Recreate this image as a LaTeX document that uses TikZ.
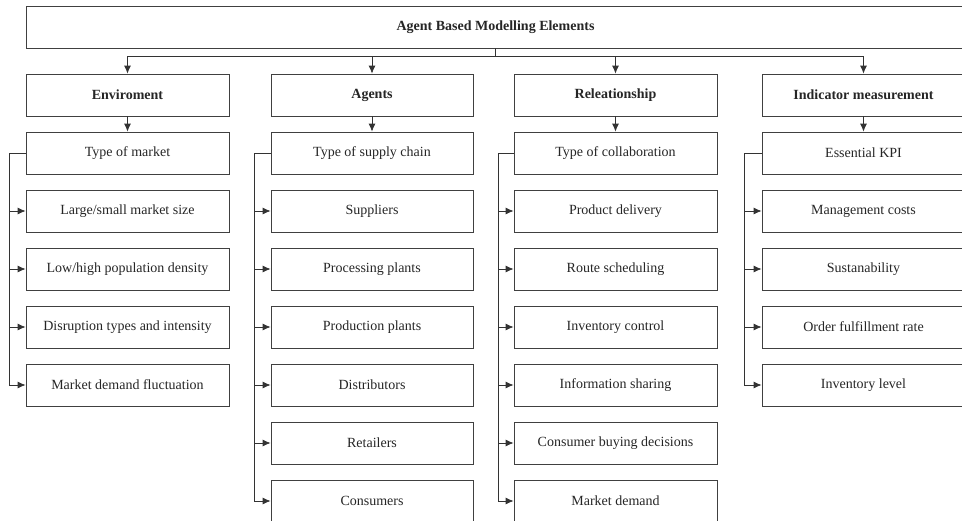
\documentclass[tikz,border=0pt]{standalone}
\usepackage{fontspec}
\setmainfont{Liberation Serif}
\usetikzlibrary{arrows.meta}
\begin{document}
\begin{tikzpicture}[x=1pt,y=-1pt,
  box/.style={draw=black!75, line width=0.8pt, fill=white, inner sep=0pt,
    minimum height=42pt, text=black!85, font=\fontsize{14}{16}\selectfont},
  head/.style={box, font=\fontsize{14}{16}\selectfont\bfseries},
  conn/.style={draw=black!80, line width=0.8pt},
  arr/.style={conn, -{Latex[length=8pt,width=7pt]}}]
\useasboundingbox (0,0) rectangle (962,520);
\clip (0,0) rectangle (962,520);

% root box, running past the right edge
\node[head, minimum width=947pt] (root) at (499.5,27) {Agent Based Modelling Elements\hspace*{8pt}};

% category boxes
\node[head, minimum width=203pt] (env) at (127.5,95) {Enviroment};
\node[head, minimum width=202pt] (agt) at (372,95) {Agents};
\node[head, minimum width=203pt] (rel) at (615.5,95) {Releationship};
\node[head, minimum width=211pt] (ind) at (867.5,95) {Indicator measurement\hspace*{8pt}};

% root to categories
\coordinate (bus) at (495,56);
\draw[conn] (bus |- root.south) -- (bus);
\draw[arr] (bus) -| (env.north);
\draw[arr] (bus) -| (agt.north);
\draw[arr] (bus) -| (rel.north);
\draw[arr] ([xshift=-4pt]bus) -| ([xshift=-4pt]ind.north);

% Enviroment column
\foreach \t [count=\i from 0] in {Type of market, Large/small market size,
    Low/high population density, Disruption types and intensity,
    Market demand fluctuation}
  \node[box, minimum width=203pt] (e\i) at (127.5,153+58*\i) {\t};
\draw[arr] (env.south) -- (e0.north);
\draw[conn] (e0.west) -- ++(-16,0) coordinate (eb);
\foreach \i in {1,...,4} \draw[arr] (eb) |- (e\i.west);

% Agents column
\foreach \t [count=\i from 0] in {Type of supply chain, Suppliers,
    Processing plants, Production plants, Distributors, Retailers, Consumers}
  \node[box, minimum width=202pt] (a\i) at (372,153+58*\i) {\t};
\draw[arr] (agt.south) -- (a0.north);
\draw[conn] (a0.west) -- ++(-16,0) coordinate (ab);
\foreach \i in {1,...,6} \draw[arr] (ab) |- (a\i.west);

% Releationship column
\foreach \t [count=\i from 0] in {Type of collaboration, Product delivery,
    Route scheduling, Inventory control, Information sharing,
    Consumer buying decisions, Market demand}
  \node[box, minimum width=203pt] (r\i) at (615.5,153+58*\i) {\t};
\draw[arr] (rel.south) -- (r0.north);
\draw[conn] (r0.west) -- ++(-15,0) coordinate (rb);
\foreach \i in {1,...,6} \draw[arr] (rb) |- (r\i.west);

% Indicator measurement column, running past the right edge
\foreach \t [count=\i from 0] in {Essential KPI, Management costs,
    Sustanability, Order fulfillment rate, Inventory level}
  \node[box, minimum width=211pt] (k\i) at (867.5,153+58*\i) {\t\hspace*{8pt}};
\draw[arr] ([xshift=-4pt]ind.south) -- ([xshift=-4pt]k0.north);
\draw[conn] (k0.west) -- ++(-17,0) coordinate (kb);
\foreach \i in {1,...,4} \draw[arr] (kb) |- (k\i.west);
\end{tikzpicture}
\end{document}
